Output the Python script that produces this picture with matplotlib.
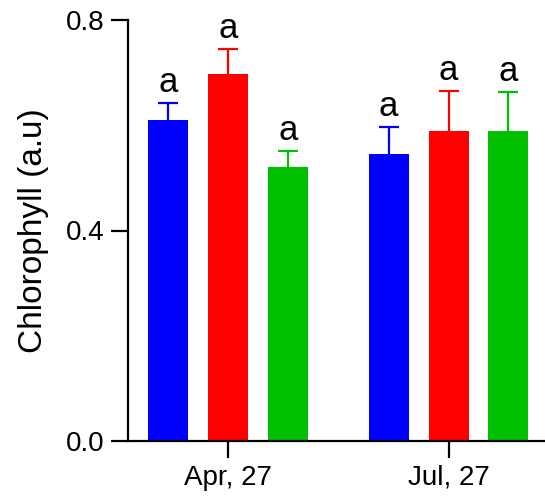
import matplotlib
matplotlib.use("Agg")
import matplotlib.pyplot as plt
import numpy as np

plt.rcParams['font.family'] = ['Liberation Sans', 'DejaVu Sans']

groups = ["Apr, 27", "Jul, 27"]
series_colors = ["#0000FF", "#FF0000", "#00C000"]
means = [
    [0.610, 0.545],   # blue
    [0.697, 0.589],   # red
    [0.521, 0.589],   # green
]
errors = [
    [0.032, 0.052],
    [0.048, 0.076],
    [0.030, 0.074],
]
letters = [
    ["a", "a"],
    ["a", "a"],
    ["a", "a"],
]
yticks = [0.0, 0.4, 0.8]
ytick_labels = ["0.0", "0.4", "0.8"]

fig = plt.figure(figsize=(5.45, 4.99), dpi=100)
ax = fig.add_axes([128/545, 1-441/499, 1-128/545, (441-20)/499])

x = np.arange(len(groups))
width = 0.1814
step = 0.272
for i, (m, e, c, lab) in enumerate(zip(means, errors, series_colors, letters)):
    pos = x + (i - 1) * step
    ax.bar(pos, m, width=width, color=c, edgecolor='none', zorder=2)
    eb = ax.errorbar(pos, m, yerr=[np.zeros(len(m)), e], fmt='none', ecolor=c,
                     elinewidth=1.6, capsize=7.2, capthick=1.6, zorder=1)
    caps = eb[1]
    if len(caps) == 2:
        caps[0].set_visible(False)
    for p, mv, ev, t in zip(pos, m, e, lab):
        ax.annotate(t, (p, mv + ev), xytext=(0, 3), textcoords='offset points',
                    ha='center', va='bottom', fontsize=25)

ax.set_xlim(-0.4535, 1.4376)
ax.set_ylim(0, 0.8)
ax.set_xticks(x)
ax.set_xticklabels(groups, fontsize=20)
ax.set_yticks(yticks)
ax.set_yticklabels(ytick_labels, fontsize=20)
ax.set_ylabel("Chlorophyll (a.u)", fontsize=24, labelpad=12)
for s in ['top', 'right']:
    ax.spines[s].set_visible(False)
for s in ['left', 'bottom']:
    ax.spines[s].set_linewidth(1.6)
ax.tick_params(axis='both', direction='out', length=12, width=1.6, pad=5)

fig.savefig("out.png", dpi=100)
